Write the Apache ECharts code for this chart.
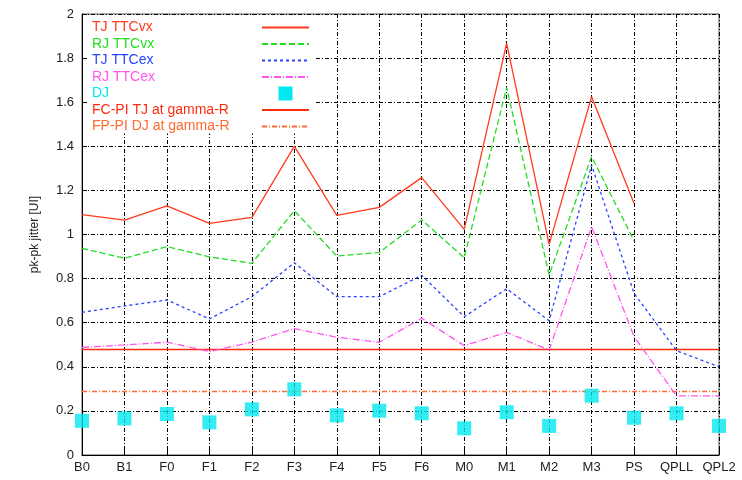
<!DOCTYPE html>
<html>
<head>
<meta charset="utf-8">
<script src="https://cdn.jsdelivr.net/npm/echarts@6/dist/echarts.min.js"></script>
<style>html,body{margin:0;padding:0;background:#fff}#c{width:742px;height:480px}</style>
</head>
<body>
<div id="c"></div>
<script>
const categories = ['B0','B1','F0','F1','F2','F3','F4','F5','F6','M0','M1','M2','M3','PS','QPLL','QPL2'];
const yTicks = [0, 0.2, 0.4, 0.6, 0.8, 1, 1.2, 1.4, 1.6, 1.8, 2];
const tjTTCvx = [1.09, 1.065, 1.13, 1.05, 1.078, 1.40, 1.087, 1.123, 1.258, 1.023, 1.867, 0.955, 1.625, 1.141, null, null];
const rjTTCvx = [0.937, 0.892, 0.945, 0.899, 0.869, 1.108, 0.902, 0.918, 1.066, 0.895, 1.667, 0.816, 1.353, 0.972, null, null];
const tjTTCex = [0.647, 0.676, 0.703, 0.617, 0.718, 0.872, 0.718, 0.718, 0.815, 0.627, 0.754, 0.609, 1.315, 0.733, 0.473, 0.40];
const rjTTCex = [0.488, 0.499, 0.512, 0.469, 0.512, 0.573, 0.534, 0.511, 0.620, 0.496, 0.556, 0.476, 1.035, 0.537, 0.268, 0.268];
const dj = [0.155, 0.166, 0.186, 0.148, 0.207, 0.298, 0.180, 0.201, 0.189, 0.121, 0.194, 0.132, 0.269, 0.169, 0.189, 0.132];
const fcpiTJ = 0.48;
const fppiDJ = 0.288;

const C = {
  tjv: '#ff3a1e', rjv: '#22dd22', tje: '#2a44ff', rje: '#ff55ee', dj: '#00e8f0', fc: '#ff2a10', fp: '#ff6a30'
};
const font = 'Liberation Sans, Arial, sans-serif';

const chart = echarts.init(document.getElementById('c'), null, {renderer: 'canvas'});
const names = ['TJ TTCvx','RJ TTCvx','TJ TTCex','RJ TTCex','DJ','FC-PI TJ at gamma-R','FP-PI DJ at gamma-R'];
const colors = [C.tjv, C.rjv, C.tje, C.rje, C.dj, C.fc, C.fp];

function lineSeries(name, data, color, type) {
  return {
    name, type: 'line', data, symbol: 'none', color,
    lineStyle: {color, width: 1.3, type},
    z: 5, animation: false
  };
}
function refSeries(name, value, color, type) {
  return {
    name, type: 'line', data: [], symbol: 'none', color,
    lineStyle: {color, width: 1.3, type},
    markLine: {
      silent: true, symbol: 'none', animation: false,
      label: {show: false},
      lineStyle: {color, width: 1.3, type, opacity: 1},
      emphasis: {disabled: true},
      data: [{yAxis: value}]
    },
    z: 4, animation: false
  };
}

const rich = {};
names.forEach((n, i) => { rich['t' + i] = {width: 165, align: 'left', color: colors[i], fontFamily: font, fontSize: 14, lineHeight: 14}; });

chart.setOption({
  animation: false,
  grid: {left: 82, right: 23, top: 14, bottom: 25, show: true, borderColor: '#555', borderWidth: 1},
  legend: {
    orient: 'vertical', left: 87, top: 15, align: 'right',
    padding: [5.5, 5, 0, 5],
    backgroundColor: '#fff',
    itemWidth: 47, itemHeight: 14, itemGap: 2.5,
    symbolKeepAspect: true,
    itemStyle: {opacity: 0},
    data: names.map((n, i) => n === 'DJ'
      ? {name: n, icon: 'path://M0,0L1,0L1,1L0,1Z', itemStyle: {opacity: 1, color: C.dj}}
      : {name: n}),
    formatter: n => '{t' + names.indexOf(n) + '|' + n + '}',
    textStyle: {fontFamily: font, fontSize: 14, lineHeight: 14, rich},
    selectedMode: false
  },
  xAxis: {
    type: 'category', data: categories, boundaryGap: false,
    axisLine: {lineStyle: {color: '#000', width: 1}},
    axisTick: {show: true, inside: true, length: 5, lineStyle: {color: '#000'}},
    axisLabel: {color: '#222', fontFamily: font, fontSize: 13, margin: 6, interval: 0},
    splitLine: {show: true, lineStyle: {color: '#000', width: 1, type: [4, 2, 1, 2]}}
  },
  yAxis: {
    type: 'value', min: 0, max: 2, interval: 0.2,
    name: 'pk-pk jitter [UI]', nameLocation: 'middle', nameGap: 41,
    nameTextStyle: {color: '#222', fontFamily: font, fontSize: 12},
    axisLine: {show: true, lineStyle: {color: '#000', width: 1}},
    axisTick: {show: true, inside: true, length: 5, lineStyle: {color: '#000'}},
    axisLabel: {color: '#222', fontFamily: font, fontSize: 13, margin: 8,
      formatter: v => { const t = yTicks.find(x => Math.abs(x - v) < 1e-9); return t === undefined ? '' : String(t); }},
    splitLine: {show: true, lineStyle: {color: '#000', width: 1, type: [4, 2, 1, 2]}}
  },
  series: [
    lineSeries('TJ TTCvx', tjTTCvx, C.tjv, 'solid'),
    lineSeries('RJ TTCvx', rjTTCvx, C.rjv, [6, 3]),
    lineSeries('TJ TTCex', tjTTCex, C.tje, [3, 3]),
    lineSeries('RJ TTCex', rjTTCex, C.rje, [7, 2, 1, 2]),
    {name: 'DJ', type: 'scatter', data: dj, symbol: 'rect', symbolSize: 14, color: C.dj,
     itemStyle: {color: C.dj}, z: 6, animation: false},
    refSeries('FC-PI TJ at gamma-R', fcpiTJ, C.fc, 'solid'),
    refSeries('FP-PI DJ at gamma-R', fppiDJ, C.fp, [5, 2, 1, 2])
  ]
});
</script>
</body>
</html>
